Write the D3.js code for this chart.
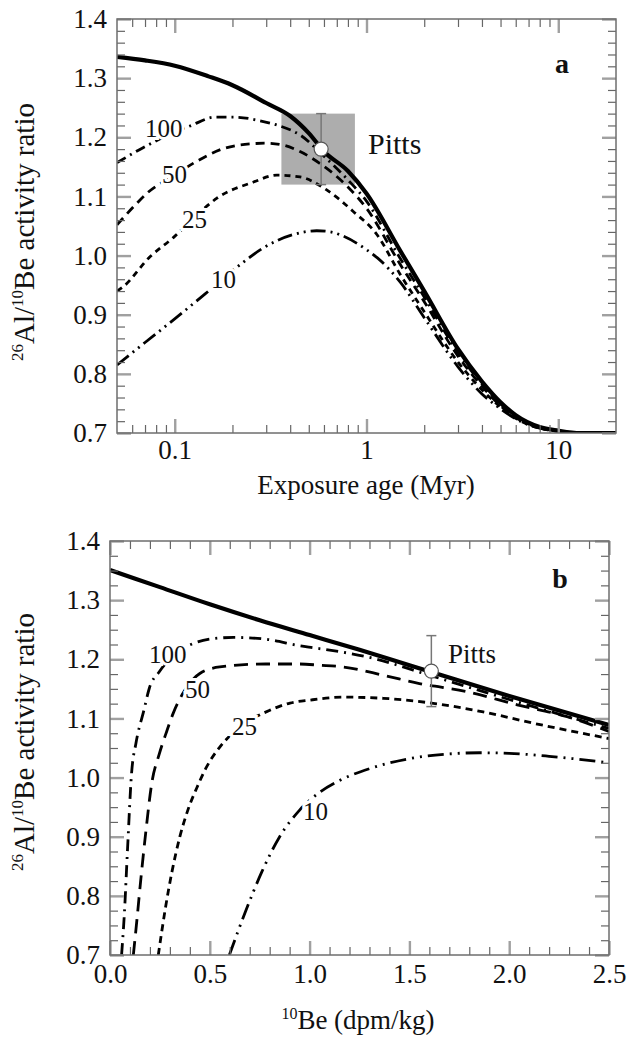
<!DOCTYPE html>
<html>
<head>
<meta charset="utf-8">
<script src="https://cdn.jsdelivr.net/npm/d3@7"></script>
<style>
  body { margin: 0; background: #fff; }
  svg { display: block; }
  text { font-family: "Liberation Serif", "Times New Roman", serif; fill: #111; }
</style>
</head>
<body>
<script>
// ---------- panel a : ratio vs exposure age ----------
let ageSolid  = [0.05,0.07,0.1,0.15,0.2,0.3,0.4,0.5,0.6,0.8,1,1.5,2,3,4,5,6,8,10,13,20]
let ratioSolidA = [1.336,1.330,1.321,1.303,1.288,1.258,1.236,1.207,1.176,1.143,1.105,1.008,0.940,0.842,0.787,0.752,0.730,0.710,0.704,0.700,0.700]

let age100 = [0.05,0.068,0.1,0.12,0.162,0.206,0.278,0.354,0.45,0.6,0.8,1,1.5,2,3,4,5,6,8,10,13,20]
let ratio100A = [1.157,1.182,1.209,1.219,1.234,1.234,1.228,1.219,1.204,1.168,1.128,1.092,0.995,0.930,0.836,0.783,0.749,0.728,0.709,0.703,0.700,0.700]

let age50 = [0.05,0.062,0.072,0.1,0.128,0.18,0.25,0.3,0.375,0.45,0.57,0.8,1,1.5,2,3,4,5,6,8,10,13,20]
let ratio50A = [1.052,1.085,1.106,1.136,1.158,1.181,1.189,1.190,1.186,1.176,1.156,1.116,1.080,0.985,0.922,0.830,0.779,0.746,0.726,0.709,0.703,0.700,0.700]

let age25 = [0.05,0.0537,0.0743,0.098,0.13,0.166,0.256,0.341,0.45,0.62,0.85,1.13,1.5,2,3,4,5,6,8,10,13,20]
let ratio25A = [0.940,0.947,0.998,1.030,1.068,1.097,1.124,1.136,1.133,1.111,1.075,1.036,0.968,0.905,0.820,0.773,0.744,0.725,0.708,0.703,0.700,0.700]

let age10 = [0.05,0.07,0.1,0.15,0.22,0.29,0.41,0.55,0.65,0.73,1.0,1.14,1.5,2,3,4,5,6,8,10,13,20]
let ratio10A = [0.815,0.853,0.893,0.940,0.985,1.013,1.035,1.042,1.040,1.035,1.010,0.996,0.955,0.895,0.812,0.766,0.741,0.724,0.708,0.703,0.700,0.700]

// ---------- panel b : ratio vs 10Be ----------
let beSolid = [0,0.25,0.5,0.75,1.0,1.25,1.5,2.0,2.5]
let ratioSolidB = [1.351,1.322,1.293,1.266,1.241,1.216,1.190,1.138,1.089]

let be100 = [0.058,0.072,0.088,0.108,0.130,0.170,0.197,0.247,0.33,0.42,0.52,0.62,0.78,0.95,1.03,1.29,1.62,2.0,2.5]
let ratio100B = [0.700,0.770,0.880,1.007,1.058,1.114,1.151,1.179,1.210,1.227,1.235,1.237,1.234,1.223,1.219,1.204,1.171,1.132,1.083]

let be50 = [0.117,0.135,0.155,0.18,0.209,0.247,0.284,0.317,0.37,0.45,0.55,0.78,0.95,1.05,1.17,1.37,1.55,1.79,2.04,2.29,2.5]
let ratio50B = [0.700,0.760,0.830,0.910,0.990,1.040,1.078,1.109,1.145,1.176,1.187,1.192,1.192,1.190,1.187,1.173,1.159,1.145,1.123,1.103,1.078]

let be25 = [0.242,0.259,0.276,0.31,0.35,0.39,0.434,0.484,0.551,0.65,0.802,0.902,1.002,1.17,1.37,1.61,1.87,2.12,2.5]
let ratio25B = [0.700,0.739,0.776,0.840,0.900,0.945,0.982,1.018,1.052,1.085,1.114,1.126,1.131,1.136,1.134,1.126,1.111,1.092,1.066]

let be10 = [0.598,0.676,0.76,0.85,0.95,1.05,1.15,1.3,1.5,1.7,1.85,2.0,2.2,2.5]
let ratio10B = [0.700,0.771,0.840,0.900,0.945,0.975,0.995,1.015,1.032,1.040,1.042,1.041,1.036,1.025]

// Pitts
let pittsAge = 0.58
let pittsAgeRange = [0.36, 0.87]
let pittsBe = 1.61
let pittsRatio = 1.18
let pittsErr = [1.12, 1.24]

let ageMajor = [0.1, 1, 10]
let ageMinor = [0.06,0.07,0.08,0.09,0.2,0.3,0.4,0.5,0.6,0.7,0.8,0.9,2,3,4,5,6,7,8,9]
let beMajor = [0, 0.5, 1.0, 1.5, 2.0, 2.5]
let beMinor = d3.range(0.1, 2.5, 0.1).filter(v => Math.abs(v*2 - Math.round(v*2)) > 1e-6)
let ratioMajor = [0.7,0.8,0.9,1.0,1.1,1.2,1.3,1.4]
let ratioMinorA = d3.range(0.72, 1.4, 0.02).filter(v => Math.abs(v*10 - Math.round(v*10)) > 1e-6)
let ratioMinorB = d3.range(0.725, 1.4, 0.025).filter(v => Math.abs(v*10 - Math.round(v*10)) > 1e-6)

let w = 627
let h = 1038

let svg = d3.select("body").append("svg")
  .attr("width", w)
  .attr("height", h)
  .attr("font-family", "Liberation Serif")

let font = "'Liberation Serif','Times New Roman',serif"

let styleTicks = (g)=>{
  g.select(".domain").remove()
  g.attr("font-family", null)
  g.selectAll(".tick text").style("font-family", font).style("font-size", "27px").attr("fill", "#111")
}

let drawFrame = (x, y, minorY, left, right, top, bottom, isLog)=>{
  let g = svg.append("g")
  let axes = [
    [d3.axisBottom, "translate(0," + bottom + ")", x, true],
    [d3.axisTop, "translate(0," + top + ")", x, false],
    [d3.axisLeft, "translate(" + left + ",0)", y, true],
    [d3.axisRight, "translate(" + right + ",0)", y, false]
  ]
  axes.forEach((a)=>{
    let isX = (a[2] === x)
    let major = isX ? (isLog ? ageMajor : beMajor) : ratioMajor
    let minor = isX ? (isLog ? ageMinor : beMinor) : minorY
    // minor ticks
    g.append("g").attr("transform", a[1])
      .call(a[0](a[2]).tickValues(minor).tickSize(-8).tickFormat(""))
      .call(styleTicks)
      .selectAll(".tick line").attr("stroke", "#666").attr("stroke-width", 1.2)
    // major ticks
    let fmt = ""
    if(a[3]){
      if(isX){
        fmt = isLog ? (d)=> d3.format("~g")(d) : d3.format(".1f")
      } else {
        fmt = d3.format(".1f")
      }
    }
    let ax = a[0](a[2]).tickValues(major).tickSize(-14).tickFormat(fmt)
      .tickPadding(isX ? (isLog ? 7 : 9) : 10)
    g.append("g").attr("transform", a[1])
      .call(ax)
      .call(styleTicks)
      .selectAll(".tick line").attr("stroke", "#a0a0a0").attr("stroke-width", 2.4)
  })
  g.append("rect")
    .attr("x", left).attr("y", top)
    .attr("width", right-left).attr("height", bottom-top)
    .attr("fill", "none").attr("stroke", "#6e6e6e").attr("stroke-width", 1.5)
}

let yTitle = (cx, cy)=>{
  let t = svg.append("text")
    .attr("transform", "translate(" + cx + "," + cy + ") rotate(-90)")
    .attr("text-anchor", "middle")
    .style("font-size", "29px")
  t.append("tspan").text("26").style("font-size", "17px").attr("dy", -11)
  t.append("tspan").text("Al/").attr("dy", 11)
  t.append("tspan").text("10").style("font-size", "17px").attr("dy", -11)
  t.append("tspan").text("Be activity ratio").attr("dy", 11)
}

let drawCurves = (x, y, series, clipId, left, top, right, bottom)=>{
  svg.append("clipPath").attr("id", clipId)
    .append("rect").attr("x", left).attr("y", top-3).attr("width", right-left).attr("height", bottom-top+3)
  let line = d3.line()
    .x(d => x(d[0]))
    .y(d => y(d[1]))
    .curve(d3.curveMonotoneX)
  series.forEach((s)=>{
    svg.append("path")
      .datum(d3.zip(s.xs, s.ys))
      .attr("d", line)
      .attr("clip-path", "url(#" + clipId + ")")
      .attr("fill", "none")
      .attr("stroke", "#000")
      .attr("stroke-width", s.width)
      .attr("stroke-dasharray", s.dash)
      .attr("stroke-linecap", "butt")
  })
}

let curveLabel = (txt, x0, yb)=>{
  svg.append("text")
    .attr("x", x0).attr("y", yb)
    .style("font-size", "25px")
    .attr("stroke", "#fff").attr("stroke-width", 6)
    .attr("paint-order", "stroke")
    .text(txt)
}

// ================= panel a =================
let xa = d3.scaleLog().domain([0.05, 20]).range([117, 616])
let ya = d3.scaleLinear().domain([0.7, 1.4]).range([433, 19])

svg.append("rect")
  .attr("x", xa(pittsAgeRange[0])).attr("y", ya(pittsErr[1]))
  .attr("width", xa(pittsAgeRange[1]) - xa(pittsAgeRange[0]))
  .attr("height", ya(pittsErr[0]) - ya(pittsErr[1]))
  .attr("fill", "#adadad")

drawCurves(xa, ya, [
  {xs: ageSolid, ys: ratioSolidA, width: 4.2, dash: null},
  {xs: age100, ys: ratio100A, width: 2.8, dash: "10,5,2,5"},
  {xs: age50, ys: ratio50A, width: 2.8, dash: "9,6"},
  {xs: age25, ys: ratio25A, width: 2.8, dash: "6,5"},
  {xs: age10, ys: ratio10A, width: 2.8, dash: "15,5,2,5,2,5"}
], "clipA", 117, 19, 616, 433)

// error bar
let eb = svg.append("g").attr("stroke", "#777").attr("stroke-width", 1.5)
eb.append("line").attr("x1", xa(pittsAge)).attr("x2", xa(pittsAge)).attr("y1", ya(pittsErr[0])).attr("y2", ya(pittsErr[1]))
eb.append("line").attr("x1", xa(pittsAge)-5).attr("x2", xa(pittsAge)+5).attr("y1", ya(pittsErr[0])).attr("y2", ya(pittsErr[0]))
eb.append("line").attr("x1", xa(pittsAge)-5).attr("x2", xa(pittsAge)+5).attr("y1", ya(pittsErr[1])).attr("y2", ya(pittsErr[1]))
svg.append("circle").attr("cx", xa(pittsAge)).attr("cy", ya(pittsRatio)).attr("r", 7)
  .attr("fill", "#fff").attr("stroke", "#555").attr("stroke-width", 1.2)

svg.append("text").attr("x", 368).attr("y", 154).style("font-size", "30px").text("Pitts")
svg.append("text").attr("x", 562).attr("y", 73).attr("text-anchor", "middle")
  .style("font-size", "28px").style("font-weight", "bold").text("a")

curveLabel("100", 145, 137)
curveLabel("50", 162, 183)
curveLabel("25", 182, 228)
curveLabel("10", 211, 288)

drawFrame(xa, ya, ratioMinorA, 117, 616, 19, 433, true)
yTitle(34, 232)
svg.append("text").attr("x", 366).attr("y", 494).attr("text-anchor", "middle")
  .style("font-size", "27px").text("Exposure age (Myr)")

// ================= panel b =================
let xb = d3.scaleLinear().domain([0, 2.5]).range([110, 609])
let yb = d3.scaleLinear().domain([0.7, 1.4]).range([955, 541])

drawCurves(xb, yb, [
  {xs: beSolid, ys: ratioSolidB, width: 4.2, dash: null},
  {xs: be100, ys: ratio100B, width: 2.8, dash: "12,6,2,6"},
  {xs: be50, ys: ratio50B, width: 2.8, dash: "14,8"},
  {xs: be25, ys: ratio25B, width: 2.8, dash: "7,5"},
  {xs: be10, ys: ratio10B, width: 2.8, dash: "16,6,2,6,2,6"}
], "clipB", 110, 541, 609, 955)

let ebb = svg.append("g").attr("stroke", "#777").attr("stroke-width", 1.5)
ebb.append("line").attr("x1", xb(pittsBe)).attr("x2", xb(pittsBe)).attr("y1", yb(pittsErr[0])).attr("y2", yb(pittsErr[1]))
ebb.append("line").attr("x1", xb(pittsBe)-5).attr("x2", xb(pittsBe)+5).attr("y1", yb(pittsErr[0])).attr("y2", yb(pittsErr[0]))
ebb.append("line").attr("x1", xb(pittsBe)-5).attr("x2", xb(pittsBe)+5).attr("y1", yb(pittsErr[1])).attr("y2", yb(pittsErr[1]))
svg.append("circle").attr("cx", xb(pittsBe)).attr("cy", yb(pittsRatio)).attr("r", 7)
  .attr("fill", "#fff").attr("stroke", "#555").attr("stroke-width", 1.2)

svg.append("text").attr("x", 448).attr("y", 663).style("font-size", "27px").text("Pitts")
svg.append("text").attr("x", 560).attr("y", 588).attr("text-anchor", "middle")
  .style("font-size", "28px").style("font-weight", "bold").text("b")

curveLabel("100", 149, 663)
curveLabel("50", 185, 698)
curveLabel("25", 232, 735)
curveLabel("10", 303, 820)

drawFrame(xb, yb, ratioMinorB, 110, 609, 541, 955, false)
yTitle(34, 742)
let xt = svg.append("text").attr("x", 358).attr("y", 1029).attr("text-anchor", "middle")
  .style("font-size", "27px")
xt.append("tspan").text("10").style("font-size", "16px").attr("dy", -10)
xt.append("tspan").text("Be (dpm/kg)").attr("dy", 10)
</script>
</body>
</html>
